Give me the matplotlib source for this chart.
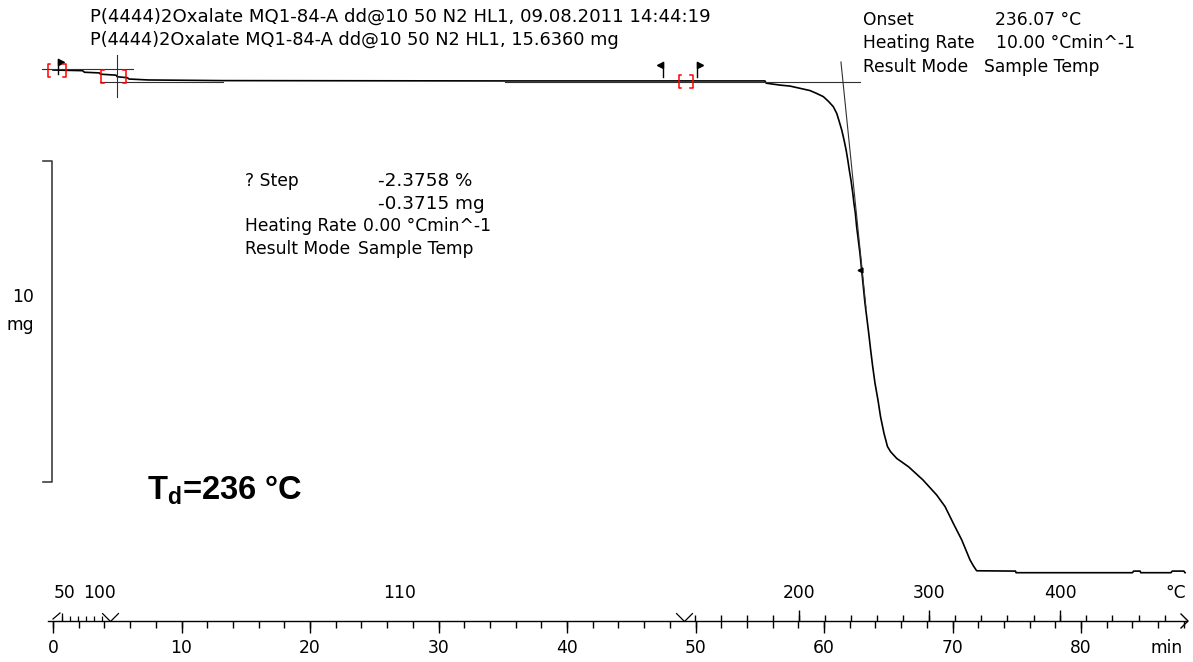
import matplotlib
matplotlib.use('Agg')
import matplotlib.pyplot as plt
import numpy as np

# ---------------- data ----------------
time_min = [0.0, 2.3, 2.45, 3.6, 3.7, 4.9, 5.0, 5.8, 5.9, 7.4, 13.2, 35.2, 55.4, 55.5,
            56.58, 57.35, 58.13, 58.91, 59.43, 59.95, 60.33, 60.72, 60.99, 61.19, 61.38,
            61.56, 61.72, 61.85, 61.97, 62.10, 62.24, 62.33, 62.44, 62.54, 62.67, 62.80,
            62.93, 63.06, 63.19, 63.32, 63.48, 63.63, 63.79, 63.97, 64.2, 64.4, 64.67,
            64.94, 65.18, 65.66, 66.58, 67.7, 68.77, 69.42, 70.06, 70.72, 71.36, 71.63,
            71.88, 74.9, 74.95, 84.0, 84.1, 84.6, 84.65, 87.0, 87.1, 88.0, 88.1]
mass_mg = [15.66, 15.64, 15.59, 15.57, 15.53, 15.50, 15.45, 15.42, 15.38, 15.35, 15.33,
           15.32, 15.32, 15.25, 15.19, 15.16, 15.09, 15.02, 14.93, 14.83, 14.69, 14.52,
           14.31, 14.05, 13.79, 13.48, 13.17, 12.86, 12.54, 12.23, 11.82, 11.51, 11.20,
           10.78, 10.36, 9.94, 9.43, 8.91, 8.39, 7.98, 7.46, 6.94, 6.42, 5.90, 5.38,
           4.86, 4.34, 3.93, 3.77, 3.56, 3.30, 2.89, 2.42, 2.06, 1.54, 1.02, 0.40, 0.21,
           0.06, 0.05, 0.0, 0.0, 0.05, 0.05, 0.0, 0.0, 0.05, 0.05, 0.0]

# evaluation lines (baselines / tangents)
step_base_upper_t = [-0.86, 6.23]
step_base_upper_m = [15.68, 15.68]
step_base_lower_t = [3.66, 13.2]
step_base_lower_m = [15.29, 15.29]
step_cross_t = [4.98, 4.98]
step_cross_m = [16.13, 14.82]
onset_base_t = [35.2, 62.8]
onset_base_m = [15.29, 15.29]
onset_tangent_t = [61.32, 63.27]
onset_tangent_m = [15.91, 8.25]
tangent_mark_t = [62.8]
tangent_mark_m = [9.43]

# evaluation limit flags and brackets
flag_right_t = [0.39, 50.12]
flag_right_m = [16.0, 15.9]
flag_left_t = [47.47]
flag_left_m = [15.9]
flag_len_mg = 0.45
bracket_open_t = [-0.39, 3.75, 48.7]
bracket_close_t = [1.01, 5.68, 49.8]
bracket_top_m = [15.85, 15.66, 15.51]
bracket_bot_m = [15.45, 15.25, 15.10]

# scale bar
scale_bar_mg = 10
scale_bar_bottom = 2.83
scale_bar_t = -0.08

# axis ticks
minute_major = list(range(0, 81, 10))
minute_minor = list(range(0, 89, 2))
temp_early_labels = ['50', '100']
temp_early_label_t = [0.93, 3.63]
temp_early_ticks_t = [0.70, 1.32, 1.95, 2.57, 3.19, 3.81]
temp_labels = ['200', '300', '400']
temp_label_t = [58.05, 68.16, 78.37]
temp_minor_t = [49.97, 52.0, 54.03, 56.07, 58.05, 60.08, 62.12, 64.15, 66.18, 68.16,
                70.2, 72.24, 74.28, 76.32, 78.37, 80.4, 82.44, 84.48, 86.52]
iso_label = '110'
iso_label_t = 27.0
segment_marks_t = [4.4, 49.1]

# ---------------- layout helpers ----------------
W, H = 1193, 662
PX_PER_MIN, X0 = 12.85, 53.0
PX_PER_MG, Y0 = 32.1, 572.7


def t_of(px):
    return (px - X0) / PX_PER_MIN


def m_of(py):
    return (Y0 - py) / PX_PER_MG


def dt(px):
    return px / PX_PER_MIN


def dm(px):
    return px / PX_PER_MG


plt.rcParams['font.family'] = ['DejaVu Sans']
plt.rcParams['mathtext.fontset'] = 'custom'
plt.rcParams['mathtext.bf'] = 'Liberation Sans:bold'
plt.rcParams['mathtext.rm'] = 'Liberation Sans'

fig = plt.figure(figsize=(W / 100, H / 100), dpi=100)
ax = fig.add_axes([0, 0, 1, 1])
ax.set_xlim(t_of(0), t_of(W))
ax.set_ylim(m_of(H), m_of(0))
ax.axis('off')

K = '#000000'
G = '#303030'

# main TGA curve
ax.plot(time_min, mass_mg, color=K, lw=1.2, solid_joinstyle='round')

# evaluation lines
for tt, mm in [(step_base_upper_t, step_base_upper_m), (step_base_lower_t, step_base_lower_m),
               (step_cross_t, step_cross_m), (onset_base_t, onset_base_m),
               (onset_tangent_t, onset_tangent_m)]:
    ax.plot(tt, mm, color=G, lw=0.8)
ax.plot(tangent_mark_t, tangent_mark_m, marker='<', color=K, ms=3.5, ls='none')

# flags
for tt, mm in zip(flag_right_t, flag_right_m):
    ax.plot([tt, tt], [mm, mm - flag_len_mg], color=K, lw=1.0)
    ax.plot([tt + dt(2.5)], [mm - dm(2.5)], marker='>', color=K, ms=4.5)
for tt, mm in zip(flag_left_t, flag_left_m):
    ax.plot([tt, tt], [mm, mm - flag_len_mg], color=K, lw=1.0)
    ax.plot([tt - dt(2.5)], [mm - dm(2.5)], marker='<', color=K, ms=4.5)

# red brackets
for to, tc, mt, mb in zip(bracket_open_t, bracket_close_t, bracket_top_m, bracket_bot_m):
    s = dt(2.5)
    ax.plot([to + s, to, to, to + s], [mt, mt, mb, mb], color='#ff0000', lw=1.1)
    ax.plot([tc - s, tc, tc, tc - s], [mt, mt, mb, mb], color='#ff0000', lw=1.1)

# scale bar
sb_top = scale_bar_bottom + scale_bar_mg
ax.plot([scale_bar_t - dt(9), scale_bar_t, scale_bar_t, scale_bar_t - dt(9)],
        [sb_top, sb_top, scale_bar_bottom, scale_bar_bottom], color='#404040', lw=1.2)

# time / temperature axis
m_axis = m_of(621)
ax.plot([t_of(48), t_of(1187)], [m_axis, m_axis], color=K, lw=1.0)
ax.vlines(minute_minor, m_axis - dm(7), m_axis, color=K, lw=1.0)
ax.vlines(minute_major, m_axis - dm(12), m_axis, color=K, lw=1.0)
ax.vlines(temp_minor_t, m_axis, m_axis + dm(6), color=K, lw=1.0)
ax.vlines(temp_label_t, m_axis, m_axis + dm(11), color=K, lw=1.0)
ax.vlines(temp_early_ticks_t, m_axis, m_axis + dm(5), color=K, lw=0.9)
ax.vlines([temp_early_ticks_t[0]], m_axis, m_axis + dm(8), color=K, lw=0.9)
# start slash and end chevron
ax.plot([t_of(53), t_of(60)], [m_axis + dm(2), m_axis + dm(8)], color=K, lw=0.9)
ax.plot([t_of(1181), t_of(1188), t_of(1181)], [m_axis + dm(7), m_axis, m_axis - dm(7)],
        color=K, lw=1.0)
vpath = [(-1, 1), (0, 0), (1, 1)]
ax.plot(segment_marks_t, [m_axis + dm(0.5)] * len(segment_marks_t), ls='none',
        marker=vpath, ms=12, mfc='none', mec=K, mew=0.9)

FS = 12.3


def ptext(x, y, s, **kw):
    kw.setdefault('fontsize', FS)
    kw.setdefault('va', 'center')
    kw.setdefault('ha', 'left')
    fig.text(x / W, 1 - y / H, s, color=K, **kw)


# tick labels
for v in minute_major:
    ax.text(v, m_of(648), str(v), ha='center', va='center', fontsize=FS)
ax.text(t_of(1167), m_of(648), 'min', ha='center', va='center', fontsize=FS)
for s, tt in zip(temp_early_labels, temp_early_label_t):
    ax.text(tt, m_of(593), s, ha='center', va='center', fontsize=FS)
for s, tt in zip(temp_labels, temp_label_t):
    ax.text(tt, m_of(593), s, ha='center', va='center', fontsize=FS)
ax.text(iso_label_t, m_of(593), iso_label, ha='center', va='center', fontsize=FS)
ax.text(t_of(1176), m_of(593), '°C', ha='center', va='center', fontsize=FS)

# header
ptext(90, 17, 'P(4444)2Oxalate MQ1-84-A dd@10 50 N2 HL1, 09.08.2011 14:44:19', fontsize=13.1)
ptext(90, 40, 'P(4444)2Oxalate MQ1-84-A dd@10 50 N2 HL1, 15.6360 mg', fontsize=12.8)

# onset box
ptext(863, 20, 'Onset')
ptext(995, 20, '236.07 °C')
ptext(863, 43, 'Heating Rate')
ptext(996, 43, '10.00 °Cmin^-1')
ptext(863, 67, 'Result Mode')
ptext(984, 67, 'Sample Temp')

# step box
ptext(245, 181, '? Step')
ptext(378, 181, '-2.3758 %', fontsize=13.2)
ptext(378, 204, '-0.3715 mg', fontsize=13.2)
ptext(245, 226, 'Heating Rate')
ptext(363, 226, '0.00 °Cmin^-1')
ptext(245, 249, 'Result Mode')
ptext(358, 249, 'Sample Temp')

# scale bar label
ptext(34, 297, '10', ha='right')
ptext(34, 325, 'mg', ha='right')

# Td annotation
ptext(147, 490, r'$\mathbf{T_{d}}$=236 °C', fontsize=23.5, fontweight='bold',
      family=['Liberation Sans', 'DejaVu Sans'])

fig.savefig('out.png', dpi=100)
